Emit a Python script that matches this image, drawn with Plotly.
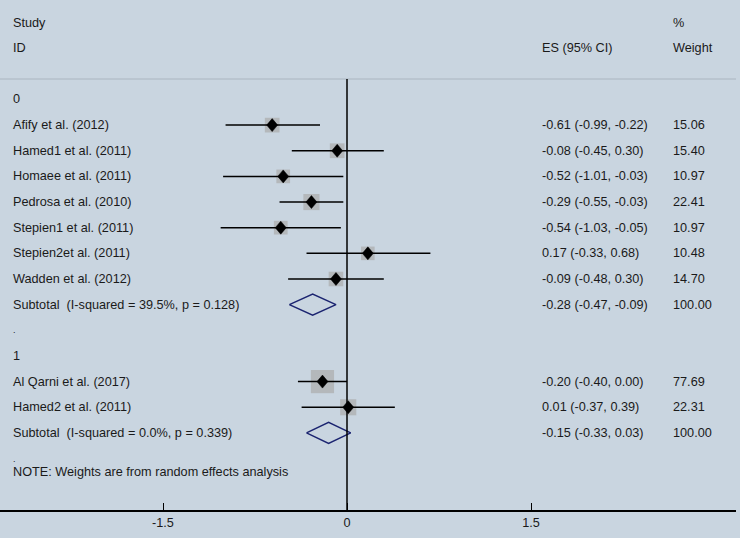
import plotly.graph_objects as go
import math

# ---------------- data ----------------
group_labels = ["0", "1"]
g0_studies = ["Afify et al. (2012)", "Hamed1 et al. (2011)", "Homaee et al. (2011)",
              "Pedrosa et al. (2010)", "Stepien1 et al. (2011)", "Stepien2et al. (2011)",
              "Wadden et al. (2012)"]
g0_es = [-0.61, -0.08, -0.52, -0.29, -0.54, 0.17, -0.09]
g0_lo = [-0.99, -0.45, -1.01, -0.55, -1.03, -0.33, -0.48]
g0_hi = [-0.22, 0.30, -0.03, -0.03, -0.05, 0.68, 0.30]
g0_wt = [15.06, 15.40, 10.97, 22.41, 10.97, 10.48, 14.70]

g1_studies = ["Al Qarni et al. (2017)", "Hamed2 et al. (2011)"]
g1_es = [-0.20, 0.01]
g1_lo = [-0.40, -0.37]
g1_hi = [0.00, 0.39]
g1_wt = [77.69, 22.31]

sub_es = [-0.28, -0.15]
sub_lo = [-0.47, -0.33]
sub_hi = [-0.09, 0.03]
sub_i2 = [39.5, 0.0]
sub_p = [0.128, 0.339]
sub_wt = [100.00, 100.00]

x_ticks = [-1.5, 0, 1.5]
note_text = "NOTE: Weights are from random effects analysis"

# ---------------- layout helpers ----------------
BG = "#C9D5E0"
TXT = "#1a1a1a"
FONT = "Liberation Sans, Arial, sans-serif"
FS = 12.7
PX_PER_UNIT = 122.67
ZERO_PX = 347
ROW0_PX = 22.5
ROW_PX = 25.65
PLOT_BOTTOM_PX = 510
W, H = 740, 538
R_MARGIN = 4

def row_of_px(p):
    return (p - ROW0_PX) / ROW_PX

def x_of_px(p):
    return (p - ZERO_PX) / PX_PER_UNIT

X_LABEL = x_of_px(10.5)
X_ES = x_of_px(539.5)
X_WT = x_of_px(671)

fig = go.Figure()
annotations = []

def txt(x, y, s, size=FS):
    annotations.append(dict(x=x, y=y, xref="x", yref="y", text=s, showarrow=False,
                            xanchor="left", yanchor="middle",
                            font=dict(family=FONT, size=size, color=TXT)))

# headers
txt(X_LABEL, 0, "Study")
txt(X_LABEL, 1, "ID")
txt(X_WT, 0, "%")
txt(X_ES, 1, "ES (95% CI)")
txt(X_WT, 1, "Weight")

def fmt_es(e, l, h):
    return f"{e:.2f} ({l:.2f}, {h:.2f})"

DW = 5.5 / PX_PER_UNIT   # half width of point diamond (data units)
DH = 6.5 / ROW_PX        # half height of point diamond (row units)

def add_group(start_row, label, studies, es, lo, hi, wt, k):
    txt(X_LABEL, start_row, label)
    rows = [start_row + 1 + i for i in range(len(studies))]
    for r, s, e, l, h, w in zip(rows, studies, es, lo, hi, wt):
        txt(X_LABEL, r, s)
        txt(X_ES, r, fmt_es(e, l, h))
        txt(X_WT, r, f"{w:.2f}")
    # weight boxes
    fig.add_trace(go.Scatter(
        x=es, y=rows, mode="markers",
        marker=dict(symbol="square", size=[8 + 1.72 * math.sqrt(w) for w in wt],
                    color="#ABABAB", line=dict(width=0)),
        hoverinfo="skip", showlegend=False))
    # CI lines
    xs, ys = [], []
    for r, l, h in zip(rows, lo, hi):
        xs += [l, h, None]
        ys += [r, r, None]
    fig.add_trace(go.Scatter(x=xs, y=ys, mode="lines",
                             line=dict(color="black", width=1.5),
                             hoverinfo="skip", showlegend=False))
    # point estimates (filled diamonds)
    dx, dy = [], []
    for r, e in zip(rows, es):
        dx += [e - DW, e, e + DW, e, e - DW, None]
        dy += [r, r - DH, r, r + DH, r, None]
    fig.add_trace(go.Scatter(x=dx, y=dy, mode="lines", fill="toself",
                             fillcolor="black", line=dict(color="black", width=0.5),
                             hoverinfo="skip", showlegend=False))
    # subtotal
    sr = start_row + 1 + len(studies)
    txt(X_LABEL, sr, "Subtotal\u00a0\u00a0(I-squared = %.1f%%, p = %.3f)" % (sub_i2[k], sub_p[k]))
    txt(X_ES, sr, fmt_es(sub_es[k], sub_lo[k], sub_hi[k]))
    txt(X_WT, sr, f"{sub_wt[k]:.2f}")
    hh = 10.5 / ROW_PX
    fig.add_trace(go.Scatter(
        x=[sub_lo[k], sub_es[k], sub_hi[k], sub_es[k], sub_lo[k]],
        y=[sr, sr - hh, sr, sr + hh, sr], mode="lines",
        line=dict(color="#1B2470", width=1.5),
        hoverinfo="skip", showlegend=False))
    return sr

s0 = add_group(3, group_labels[0], g0_studies, g0_es, g0_lo, g0_hi, g0_wt, 0)
txt(X_LABEL, s0 + 1, ".", size=9)
s1 = add_group(s0 + 2, group_labels[1], g1_studies, g1_es, g1_lo, g1_hi, g1_wt, 1)
txt(X_LABEL, s1 + 1, ".", size=9)
txt(X_LABEL, s1 + 1.54, note_text)

y_top = row_of_px(0)
y_bot = row_of_px(PLOT_BOTTOM_PX)
x_left = x_of_px(0)
x_right = x_of_px(W - R_MARGIN)
sep_row = row_of_px(79)

shapes = [
    dict(type="line", xref="x", yref="y", x0=x_left, x1=x_right, y0=sep_row, y1=sep_row,
         line=dict(color="#AAB5C0", width=1)),
    dict(type="line", xref="x", yref="y", x0=0, x1=0, y0=sep_row, y1=y_bot,
         line=dict(color="black", width=1.5)),
]

fig.update_layout(
    width=W, height=H,
    paper_bgcolor=BG, plot_bgcolor=BG,
    margin=dict(l=0, r=R_MARGIN, t=0, b=H - PLOT_BOTTOM_PX),
    showlegend=False,
    annotations=annotations,
    shapes=shapes,
    xaxis=dict(range=[x_left, x_right], tickvals=x_ticks,
               ticktext=[("%g" % t) for t in x_ticks],
               ticks="inside", ticklen=7, tickwidth=1.2, tickcolor="black",
               showline=True, linecolor="black", linewidth=1.5,
               showgrid=False, zeroline=False,
               tickfont=dict(family=FONT, size=FS, color=TXT)),
    yaxis=dict(range=[y_bot, y_top], showgrid=False, zeroline=False,
               showticklabels=False, showline=False, ticks=""),
)

fig.write_html("out.html", config={"displayModeBar": False},
               post_script="document.body.style.margin='0';document.body.style.background='%s';" % BG)
